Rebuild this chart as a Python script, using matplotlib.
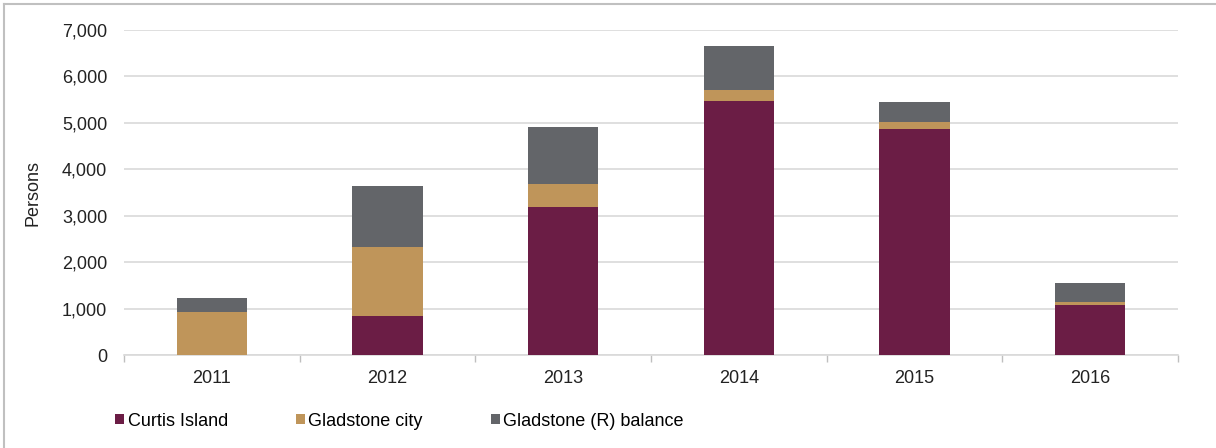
import matplotlib.pyplot as plt
import numpy as np
from matplotlib.lines import Line2D

plt.rcParams['font.family'] = ['Liberation Sans', 'DejaVu Sans']

years = ['2011', '2012', '2013', '2014', '2015', '2016']
curtis = [0, 850, 3180, 5480, 4860, 1080]
gladstone_city = [920, 1480, 500, 230, 150, 65]
gladstone_bal = [300, 1310, 1230, 950, 440, 395]

c_curtis = '#6b1d45'
c_city = '#bf955a'
c_bal = '#636569'
fs = 13

fig = plt.figure(figsize=(12.16, 4.48), dpi=100)
ax = fig.add_axes([124/1216, 93/448, 1054/1216, 325/448])

x = np.arange(len(years))
w = 0.4
ax.bar(x, curtis, w, color=c_curtis, label='Curtis Island', zorder=3)
ax.bar(x, gladstone_city, w, bottom=curtis, color=c_city, label='Gladstone city', zorder=3)
bot = np.array(curtis) + np.array(gladstone_city)
ax.bar(x, gladstone_bal, w, bottom=bot, color=c_bal, label='Gladstone (R) balance', zorder=3)

ax.set_xlim(-0.5, len(years) - 0.5)
ax.set_ylim(0, 7000)
ax.set_yticks(range(0, 7001, 1000))
ax.set_yticklabels(['{:,}'.format(v) for v in range(0, 7001, 1000)], fontsize=fs, color='#222222')
ax.tick_params(axis='y', length=0, pad=12)
ax.set_xticks(x)
ax.set_xticklabels(years, fontsize=fs, color='#222222')
ax.tick_params(axis='x', length=0, pad=11)
# boundary ticks between categories
ax.set_xticks(np.arange(-0.5, len(years)), minor=True)
ax.tick_params(axis='x', which='minor', length=5, color='#bfbfbf', width=1)
ax.yaxis.grid(True, color='#d9d9d9', linewidth=1.2, zorder=0)
for s in ['top', 'right', 'left']:
    ax.spines[s].set_visible(False)
ax.spines['bottom'].set_color('#d9d9d9')
ax.spines['bottom'].set_linewidth(1.2)
ax.set_ylabel('Persons', fontsize=fs, color='#222222', labelpad=15)

handles, labels = ax.get_legend_handles_labels()
fig.legend(handles, labels, loc='center left', bbox_to_anchor=(99/1216, 1 - 421/448),
           ncol=3, frameon=False, fontsize=fs, handlelength=0.5, handleheight=0.5,
           handletextpad=0.2, columnspacing=3.75)

# outer frame lines
fig.add_artist(Line2D([4/1216, 1], [1 - 4/448, 1 - 4/448], color='#c0c0c0', lw=1.5))
fig.add_artist(Line2D([4/1216, 4/1216], [0, 1 - 4/448], color='#c0c0c0', lw=1.5))

fig.savefig('out.png', dpi=100)
